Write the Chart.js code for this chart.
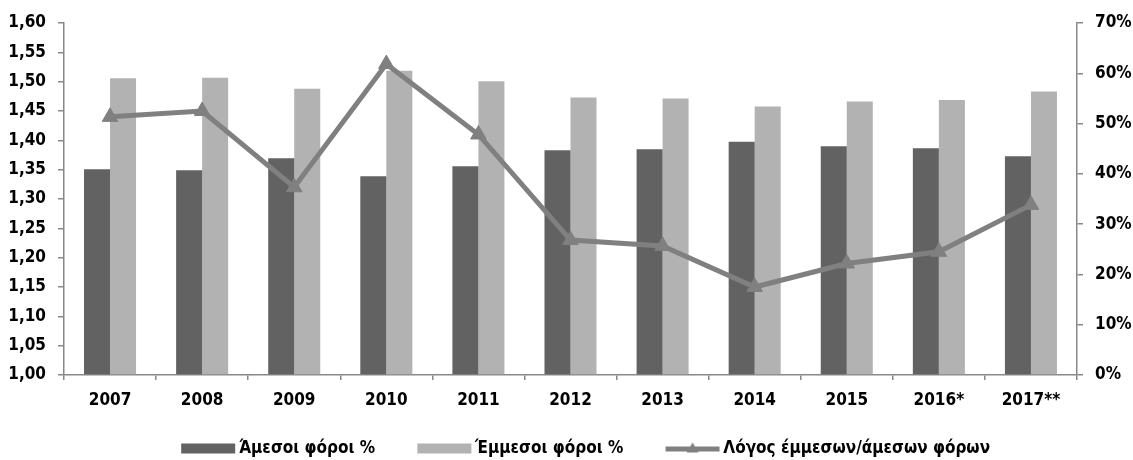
<!DOCTYPE html>
<html>
<head>
<meta charset="utf-8">
<script src="https://cdn.jsdelivr.net/npm/chart.js@4.4.1/dist/chart.umd.min.js"></script>
<style>
  html, body { margin: 0; padding: 0; background: #fff; }
  #chart { display: block; }
</style>
</head>
<body>
<canvas id="chart" width="1133" height="460"></canvas>
<script>
const years = ['2007', '2008', '2009', '2010', '2011', '2012', '2013', '2014', '2015', '2016*', '2017**'];
const directTax = [40.9, 40.7, 43.1, 39.5, 41.5, 44.7, 44.9, 46.4, 45.5, 45.1, 43.5];
const indirectTax = [59.0, 59.1, 56.9, 60.5, 58.4, 55.2, 55.0, 53.4, 54.4, 54.7, 56.4];
const ratio = [1.44, 1.45, 1.32, 1.53, 1.41, 1.23, 1.22, 1.15, 1.19, 1.21, 1.29];

const FONT = '"DejaVu Sans Condensed", "Liberation Sans Narrow", "Arial Narrow", Arial, sans-serif';
const DARK = '#626262';
const LIGHT = '#b2b2b2';
const LINE = '#808080';
const AXIS = '#888888';

// legend markers drawn into small canvases (box or line with triangle)
const LEG_FS = 17;
const MARK_L = 38;                           // empty space before each marker
const MARK_W = MARK_L + 54 + 4 - LEG_FS / 2; // pointStyleWidth
const MARK_M = 8;
function legendMarker(kind, color) {
  const c = document.createElement('canvas');
  c.width = MARK_W + 2 * MARK_M;
  c.height = 20;
  const g = c.getContext('2d');
  const x0 = MARK_L + MARK_M;
  g.fillStyle = color;
  if (kind === 'box') {
    g.fillRect(x0, 5, 54, 10);
  } else {
    g.fillRect(x0, 8, 54, 5);
    g.beginPath();
    g.moveTo(x0 + 27, 4);
    g.lineTo(x0 + 33, 14);
    g.lineTo(x0 + 21, 14);
    g.closePath();
    g.fill();
  }
  return c;
}
const markers = [legendMarker('box', DARK), legendMarker('box', LIGHT), legendMarker('line', LINE)];

Chart.defaults.font.family = FONT;
Chart.defaults.font.weight = 'bold';
Chart.defaults.color = '#000';

new Chart(document.getElementById('chart'), {
  data: {
    labels: years,
    datasets: [
      {
        type: 'line',
        label: 'Λόγος έμμεσων/άμεσων φόρων',
        data: ratio,
        yAxisID: 'y',
        borderColor: LINE,
        backgroundColor: LINE,
        borderWidth: 5,
        pointStyle: 'triangle',
        pointRadius: 9,
        pointBorderWidth: 1,
        pointBackgroundColor: LINE,
        pointBorderColor: LINE,
        tension: 0,
        order: 0
      },
      {
        type: 'bar',
        label: 'Άμεσοι φόροι %',
        data: directTax,
        yAxisID: 'y1',
        backgroundColor: DARK,
        categoryPercentage: 0.565,
        barPercentage: 1,
        order: 1
      },
      {
        type: 'bar',
        label: 'Έμμεσοι φόροι %',
        data: indirectTax,
        yAxisID: 'y1',
        backgroundColor: LIGHT,
        categoryPercentage: 0.565,
        barPercentage: 1,
        order: 1
      }
    ]
  },
  options: {
    responsive: false,
    animation: false,
    layout: { padding: { top: 23, left: 0, right: 0, bottom: -7 } },
    plugins: {
      tooltip: { enabled: false },
      legend: {
        position: 'bottom',
        labels: {
          usePointStyle: true,
          pointStyleWidth: MARK_W,
          boxHeight: 18,
          padding: 4,
          font: { size: LEG_FS, weight: 'bold', family: FONT },
          color: '#000',
          generateLabels: (chart) => {
            const order = [1, 2, 0];
            return order.map((di, i) => ({
              text: chart.data.datasets[di].label,
              pointStyle: markers[i],
              fillStyle: 'transparent',
              strokeStyle: 'transparent',
              lineWidth: 0,
              datasetIndex: di,
              fontColor: '#000'
            }));
          }
        }
      }
    },
    scales: {
      x: {
        afterFit: (s) => { s.height = 61; },
        grid: { drawOnChartArea: false, tickLength: 5, color: AXIS, lineWidth: 1.5 },
        border: { color: AXIS, width: 1.5 },
        ticks: { padding: 10, font: { size: 17, weight: 'bold' }, maxRotation: 0 }
      },
      y: {
        position: 'left',
        min: 1,
        max: 1.6,
        afterFit: (s) => { s.width = 64; },
        grid: { drawOnChartArea: false, tickLength: 6, color: AXIS, lineWidth: 1.5 },
        border: { color: AXIS, width: 1.5 },
        ticks: {
          stepSize: 0.05,
          padding: 12,
          font: { size: 17, weight: 'bold' },
          callback: (v) => v.toFixed(2).replace('.', ',')
        }
      },
      y1: {
        position: 'right',
        min: 0,
        max: 70,
        afterFit: (s) => { s.width = 56; },
        grid: { drawOnChartArea: false, tickLength: 6, color: AXIS, lineWidth: 1.5 },
        border: { color: AXIS, width: 1.5 },
        ticks: {
          stepSize: 10,
          padding: 12,
          font: { size: 17, weight: 'bold' },
          callback: (v) => v + '%'
        }
      }
    }
  }
});
</script>
</body>
</html>
